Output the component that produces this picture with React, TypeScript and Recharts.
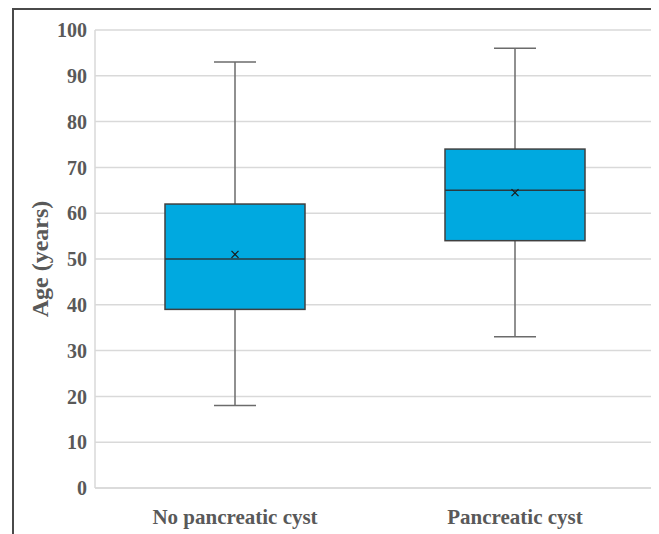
import React from 'react';
import { ComposedChart, Bar, XAxis, YAxis, CartesianGrid } from 'recharts';

const categories = ['No pancreatic cyst', 'Pancreatic cyst'];
const mins = [18, 33];
const q1s = [39, 54];
const medians = [50, 65];
const q3s = [62, 74];
const maxs = [93, 96];
const means = [51, 64.5];
const yTicks = [0, 10, 20, 30, 40, 50, 60, 70, 80, 90, 100];

const data = categories.map((name, i) => ({
  name,
  box: [q1s[i], q3s[i]],
  min: mins[i],
  q1: q1s[i],
  median: medians[i],
  q3: q3s[i],
  max: maxs[i],
  mean: means[i],
}));

const textColor = '#595959';
const fontFamily = '"Liberation Serif", "DejaVu Serif", serif';

// draws one box with whiskers, scale taken from the bar's own geometry
const BoxShape = (props: any) => {
  const { x, y, width, height, payload } = props;
  const unit = height / (payload.q3 - payload.q1);
  const yOf = (v: number) => y + (payload.q3 - v) * unit;
  const cx = x + width / 2;
  const cap = width * 0.15;
  const my = yOf(payload.mean);
  const m = 3.5;
  return (
    <g>
      <line x1={cx} x2={cx} y1={yOf(payload.max)} y2={yOf(payload.q3)} stroke="#6b6b6b" strokeWidth={1.5} />
      <line x1={cx} x2={cx} y1={yOf(payload.q1)} y2={yOf(payload.min)} stroke="#6b6b6b" strokeWidth={1.5} />
      <line x1={cx - cap} x2={cx + cap} y1={yOf(payload.max)} y2={yOf(payload.max)} stroke="#6b6b6b" strokeWidth={1.5} />
      <line x1={cx - cap} x2={cx + cap} y1={yOf(payload.min)} y2={yOf(payload.min)} stroke="#6b6b6b" strokeWidth={1.5} />
      <rect x={x} y={y} width={width} height={height} fill="#00a9e0" stroke="#404040" strokeWidth={1.5} />
      <line x1={x} x2={x + width} y1={yOf(payload.median)} y2={yOf(payload.median)} stroke="#2a3a40" strokeWidth={1.5} />
      <line x1={cx - m} x2={cx + m} y1={my - m} y2={my + m} stroke="#1a1a1a" strokeWidth={1.2} />
      <line x1={cx - m} x2={cx + m} y1={my + m} y2={my - m} stroke="#1a1a1a" strokeWidth={1.2} />
    </g>
  );
};

const YLabel = (props: any) => {
  const { viewBox } = props;
  const lx = viewBox.x + 12;
  const ly = viewBox.y + viewBox.height / 2;
  return (
    <text
      x={lx}
      y={ly}
      transform={`rotate(-90, ${lx}, ${ly})`}
      textAnchor="middle"
      dominantBaseline="central"
      fill={textColor}
      fontSize={24}
      fontWeight="bold"
      fontFamily={fontFamily}
    >
      Age (years)
    </text>
  );
};

export default function App() {
  return (
    <div
      style={{
        position: 'relative',
        width: 651,
        height: 526,
        fontFamily,
      }}
    >
      <div
        style={{
          position: 'absolute',
          left: 4,
          top: 0,
          width: 700,
          height: 600,
          border: '2px solid #4a4a4a',
          boxSizing: 'border-box',
        }}
      />
      <ComposedChart
        width={651}
        height={526}
        data={data}
        margin={{ top: 22, right: 4, bottom: 0, left: 20 }}
        style={{ position: 'absolute', left: 0, top: 0 }}
      >
        <CartesianGrid vertical={false} stroke="#d9d9d9" strokeWidth={1.5} />
        <XAxis
          dataKey="name"
          height={46}
          tickLine={false}
          axisLine={{ stroke: '#d9d9d9', strokeWidth: 1.5 }}
          tickMargin={15}
          tick={{ fill: textColor, fontSize: 21, fontWeight: 'bold', fontFamily }}
        />
        <YAxis
          width={67}
          domain={[0, 100]}
          ticks={yTicks}
          interval={0}
          tickLine={false}
          axisLine={{ stroke: '#d9d9d9', strokeWidth: 1.5 }}
          tick={{ fill: textColor, fontSize: 20, fontWeight: 'bold', fontFamily }}
          label={<YLabel />}
        />
        <Bar dataKey="box" barSize={140} shape={<BoxShape />} isAnimationActive={false} />
      </ComposedChart>
    </div>
  );
}
